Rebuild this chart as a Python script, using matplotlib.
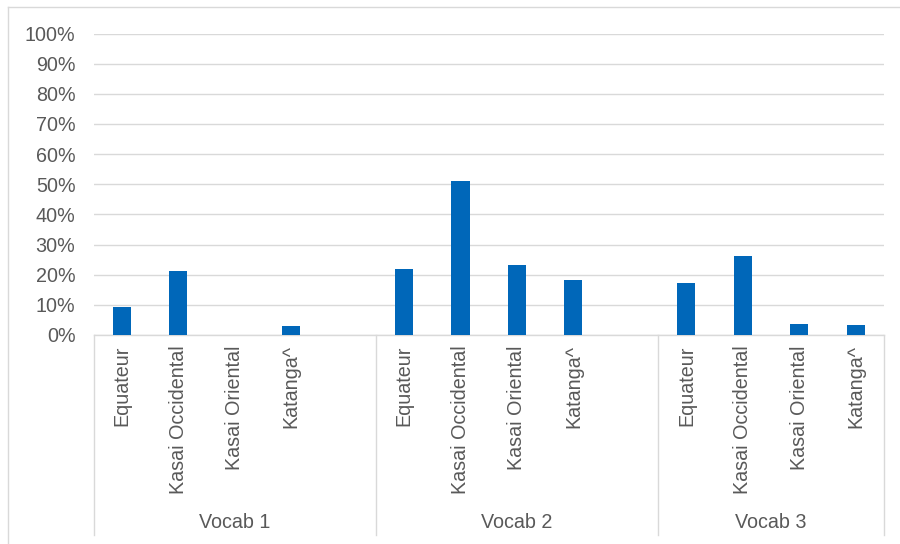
import matplotlib
matplotlib.use("Agg")
import matplotlib.pyplot as plt
from matplotlib.lines import Line2D
import matplotlib.transforms as mtransforms

plt.rcParams['font.family'] = ['Liberation Sans', 'DejaVu Sans']

groups = ["Vocab 1", "Vocab 2", "Vocab 3"]
regions = ["Equateur", "Kasai Occidental", "Kasai Oriental", "Katanga^"]
vocab1 = [0.094, 0.211, 0.0, 0.030]
vocab2 = [0.220, 0.510, 0.231, 0.181]
vocab3 = [0.171, 0.261, 0.035, 0.034]
yticks = [0.0, 0.1, 0.2, 0.3, 0.4, 0.5, 0.6, 0.7, 0.8, 0.9, 1.0]
ytick_labels = ["0%", "10%", "20%", "30%", "40%", "50%", "60%", "70%", "80%", "90%", "100%"]

W, H = 900, 544
fig = plt.figure(figsize=(W / 100, H / 100), dpi=100)
x0, x1, ytop, ybot = 93.5, 884.0, 33.5, 335.0
ax = fig.add_axes([x0 / W, (H - ybot) / H, (x1 - x0) / W, (ybot - ytop) / H])

bar_color = "#0067B9"
text_color = "#595959"
grid_color = "#D9D9D9"
fs = 14.2

# slot layout: 5 slots per group (last slot blank), final group without blank
series = [vocab1, vocab2, vocab3]
starts = [0, 5, 10]
xs, vals, labels = [], [], []
for s, vals_g in zip(starts, series):
    for i, (r, v) in enumerate(zip(regions, vals_g)):
        xs.append(s + i)
        vals.append(v)
        labels.append(r)

ax.bar(xs, vals, width=0.32, color=bar_color, zorder=3)

ax.set_xlim(-0.5, 13.5)
ax.set_ylim(0, 1.0)
ax.set_yticks(yticks)
ax.set_yticklabels(ytick_labels)
ax.yaxis.grid(True, color=grid_color, linewidth=1.0, zorder=0)
ax.set_axisbelow(True)
for sp in ["top", "right", "left"]:
    ax.spines[sp].set_visible(False)
ax.spines["bottom"].set_color(grid_color)
ax.spines["bottom"].set_linewidth(1.0)
ax.tick_params(axis="y", length=0, pad=13.0, labelsize=fs, labelcolor=text_color)
ax.set_xticks(xs)
ax.set_xticklabels(labels, rotation=90, va="top", ha="center")
ax.tick_params(axis="x", length=0, pad=7.5, labelsize=fs, labelcolor=text_color)

# group separators and group labels below the axis
trans = mtransforms.blended_transform_factory(ax.transData, ax.transAxes)
sep_bottom = -(535 - ybot) / (ybot - ytop)
for xsep in [-0.5, 4.5, 9.5, 13.5]:
    ax.add_line(Line2D([xsep, xsep], [0, sep_bottom], transform=trans,
                       color=grid_color, linewidth=1.0, clip_on=False))
group_y = -(522 - ybot) / (ybot - ytop)
for g, lo, hi in zip(groups, [-0.5, 4.5, 9.5], [4.5, 9.5, 13.5]):
    ax.text((lo + hi) / 2, group_y, g, transform=trans, ha="center", va="center",
            fontsize=fs, color=text_color)

# chart area border
fig.add_artist(Line2D([8 / W, 8 / W], [0, 1 - 6.5 / H], transform=fig.transFigure,
                      color=grid_color, linewidth=1.0))
fig.add_artist(Line2D([8 / W, 1], [1 - 6.5 / H, 1 - 6.5 / H], transform=fig.transFigure,
                      color=grid_color, linewidth=1.0))

fig.savefig("out.png", dpi=100, facecolor="white")
